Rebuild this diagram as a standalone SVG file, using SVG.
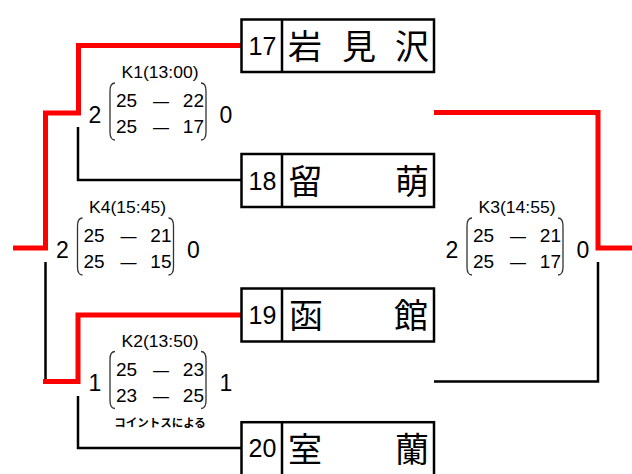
<svg xmlns="http://www.w3.org/2000/svg" width="632" height="474" viewBox="0 0 632 474">
<style>
.box{fill:#fff;stroke:#000;stroke-width:2.5}
.div{stroke:#000;stroke-width:2.5}
.num{font-family:"Liberation Sans",Arial,sans-serif;font-size:25px;text-anchor:middle;fill:#000}
.jp{font-family:"Noto Sans CJK JP","Noto Sans CJK SC",sans-serif;font-size:34px;text-anchor:middle;fill:#000}
.win{fill:none;stroke:#ff0000;stroke-width:5;stroke-linejoin:miter}
.lose{fill:none;stroke:#000;stroke-width:2.5}
.big{font-family:"Liberation Sans",Arial,sans-serif;font-size:23px;text-anchor:middle;fill:#000}
.lbl{font-family:"Liberation Sans",Arial,sans-serif;font-size:16px;text-anchor:middle;fill:#000}
.sc{font-family:"Liberation Sans",Arial,sans-serif;font-size:19px;fill:#000}
.dash{font-family:"Liberation Sans",Arial,sans-serif;font-size:16px;text-anchor:middle;fill:#000}
.par{fill:none;stroke:#333;stroke-width:1.3}
.note{font-family:"Noto Sans CJK JP",sans-serif;font-size:11.5px;font-weight:bold;text-anchor:middle;fill:#000}
</style>

<g id="connectors">
  <path class="win" d="M242 45.5 H78.5 V113 H45.5 V248 H13"/>
  <path class="lose" d="M78 127 V180 H241.5"/>
  <path class="lose" d="M45.5 262 V381.5"/>
  <path class="win" d="M242 315 H78 V381.5 H43"/>
  <path class="lose" d="M78 396 V448 H241.5"/>
  <path class="win" d="M434 112.5 H598 V248 H634"/>
  <path class="lose" d="M434 381.5 H598 V262"/>
</g>

<g id="team17">
  <rect class="box" x="241.5" y="19.5" width="192.5" height="52.5"/>
  <line class="div" x1="282" y1="19.5" x2="282" y2="72"/>
  <text class="num" x="262.5" y="55">17</text>
  <text class="jp" x="305" y="58.5">岩</text>
  <text class="jp" x="359" y="58.5">見</text>
  <text class="jp" x="412" y="58.5">沢</text>
</g>
<g id="team18">
  <rect class="box" x="241.5" y="154" width="192.5" height="53"/>
  <line class="div" x1="282" y1="154" x2="282" y2="207"/>
  <text class="num" x="262.5" y="189.5">18</text>
  <text class="jp" x="305.5" y="193.5">留</text>
  <text class="jp" x="412" y="193.5">萌</text>
</g>
<g id="team19">
  <rect class="box" x="241.5" y="288.5" width="192.5" height="53"/>
  <line class="div" x1="282" y1="288.5" x2="282" y2="341.5"/>
  <text class="num" x="262.5" y="324">19</text>
  <text class="jp" x="306" y="328">函</text>
  <text class="jp" x="411" y="328">館</text>
</g>
<g id="team20">
  <rect class="box" x="241.5" y="422.2" width="192.5" height="60"/>
  <line class="div" x1="282" y1="422.2" x2="282" y2="480"/>
  <text class="num" x="262.5" y="457">20</text>
  <text class="jp" x="305" y="461.5">室</text>
  <text class="jp" x="412" y="461.5">蘭</text>
</g>

<g id="K1" transform="translate(0,113)">
  <text class="lbl" x="160" y="-35" textLength="77" lengthAdjust="spacingAndGlyphs">K1(13:00)</text>
  <text class="big" x="95" y="9.5">2</text>
  <text class="big" x="226" y="9.5">0</text>
  <path class="par" d="M115,-30 Q110,-30 110,-22 V19 Q110,27 115,27"/>
  <path class="par" d="M201,-30 Q206,-30 206,-22 V19 Q206,27 201,27"/>
  <text class="sc" x="116" y="-6">25</text>
  <text class="dash" x="161" y="-6">—</text>
  <text class="sc" x="204" y="-6" text-anchor="end">22</text>
  <text class="sc" x="116" y="20">25</text>
  <text class="dash" x="161" y="20">—</text>
  <text class="sc" x="204" y="20" text-anchor="end">17</text>
</g>

<g id="K4" transform="translate(-32.5,248)">
  <text class="lbl" x="160" y="-35" textLength="77" lengthAdjust="spacingAndGlyphs">K4(15:45)</text>
  <text class="big" x="95" y="9.5">2</text>
  <text class="big" x="226" y="9.5">0</text>
  <path class="par" d="M115,-30 Q110,-30 110,-22 V19 Q110,27 115,27"/>
  <path class="par" d="M201,-30 Q206,-30 206,-22 V19 Q206,27 201,27"/>
  <text class="sc" x="116" y="-6">25</text>
  <text class="dash" x="161" y="-6">—</text>
  <text class="sc" x="204" y="-6" text-anchor="end">21</text>
  <text class="sc" x="116" y="20">25</text>
  <text class="dash" x="161" y="20">—</text>
  <text class="sc" x="204" y="20" text-anchor="end">15</text>
</g>

<g id="K3" transform="translate(357,248)">
  <text class="lbl" x="160" y="-35" textLength="77" lengthAdjust="spacingAndGlyphs">K3(14:55)</text>
  <text class="big" x="95" y="9.5">2</text>
  <text class="big" x="226" y="9.5">0</text>
  <path class="par" d="M115,-30 Q110,-30 110,-22 V19 Q110,27 115,27"/>
  <path class="par" d="M201,-30 Q206,-30 206,-22 V19 Q206,27 201,27"/>
  <text class="sc" x="116" y="-6">25</text>
  <text class="dash" x="161" y="-6">—</text>
  <text class="sc" x="204" y="-6" text-anchor="end">21</text>
  <text class="sc" x="116" y="20">25</text>
  <text class="dash" x="161" y="20">—</text>
  <text class="sc" x="204" y="20" text-anchor="end">17</text>
</g>

<g id="K2" transform="translate(0,381.5)">
  <text class="lbl" x="160" y="-35" textLength="77" lengthAdjust="spacingAndGlyphs">K2(13:50)</text>
  <text class="big" x="95" y="9.5">1</text>
  <text class="big" x="226" y="9.5">1</text>
  <path class="par" d="M115,-30 Q110,-30 110,-22 V19 Q110,27 115,27"/>
  <path class="par" d="M201,-30 Q206,-30 206,-22 V19 Q206,27 201,27"/>
  <text class="sc" x="116" y="-6">25</text>
  <text class="dash" x="161" y="-6">—</text>
  <text class="sc" x="204" y="-6" text-anchor="end">23</text>
  <text class="sc" x="116" y="20">23</text>
  <text class="dash" x="161" y="20">—</text>
  <text class="sc" x="204" y="20" text-anchor="end">25</text>
  <text class="note" x="160" y="45.5">コイントスによる</text>
</g>
</svg>
